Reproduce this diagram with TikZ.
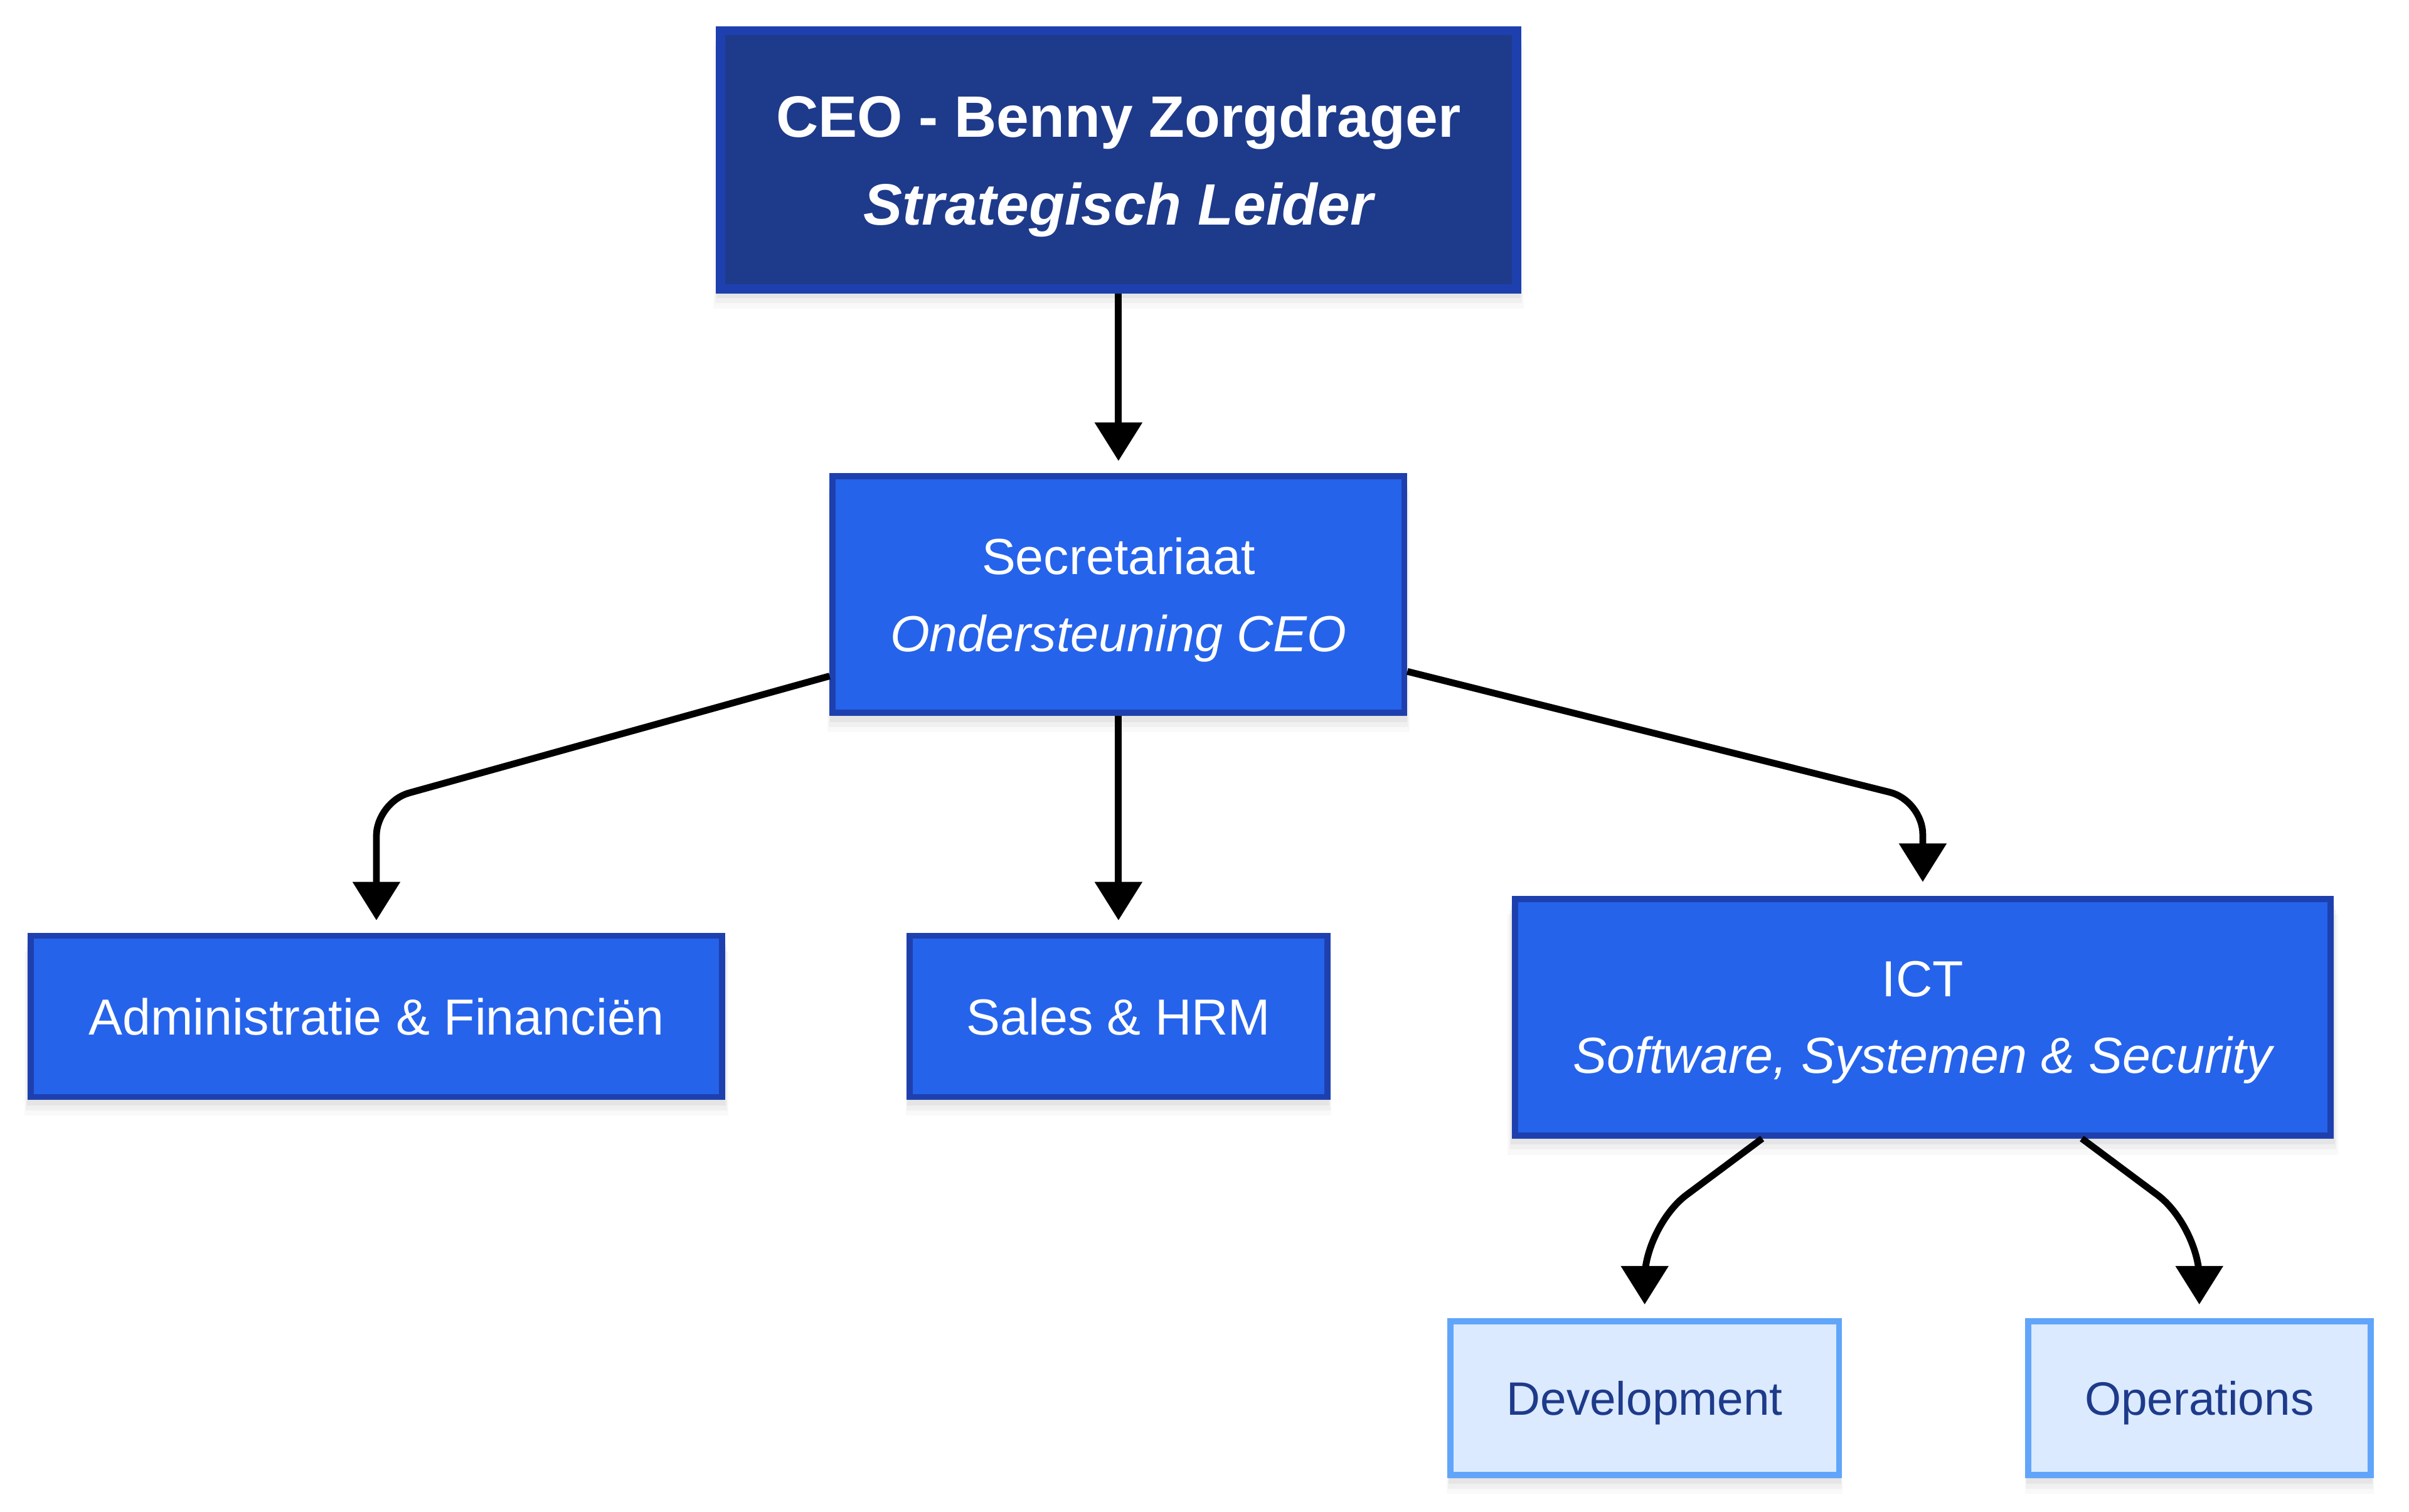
\documentclass[tikz,border=0pt]{standalone}
\usepackage{fontspec}
\setmainfont{Liberation Sans}
\usetikzlibrary{arrows.meta,shadows,calc}
\definecolor{navy}{HTML}{1E3A8A}
\definecolor{bord}{HTML}{1E40AF}
\definecolor{midblue}{HTML}{2563EB}
\definecolor{pale}{HTML}{DBEAFE}
\definecolor{paleb}{HTML}{60A5FA}
\begin{document}
\begin{tikzpicture}[x=1pt,y=-1pt,
  shad/.style={
    general shadow={fill=black, opacity=0.045, shadow xshift=0pt, shadow yshift=-2pt, shadow scale=1.006},
    general shadow={fill=black, opacity=0.045, shadow xshift=0pt, shadow yshift=-5pt, shadow scale=1.01},
    general shadow={fill=black, opacity=0.035, shadow xshift=0pt, shadow yshift=-8pt, shadow scale=1.014},
    general shadow={fill=black, opacity=0.025, shadow xshift=0pt, shadow yshift=-11pt, shadow scale=1.018}},
  box/.style={shad, draw=bord, line width=4pt, fill=midblue, text=white, inner sep=0pt,
    text depth=0pt, align=center, font=\fontsize{33}{50}\selectfont},
  ceobox/.style={shad, draw=bord, line width=6pt, fill=navy, text=white, inner sep=0pt,
    text depth=0pt, align=center, font=\fontsize{38}{57}\selectfont\bfseries},
  subbox/.style={shad, draw=paleb, line width=4pt, fill=pale, text=navy, inner sep=0pt,
    text depth=0pt, align=center, font=\fontsize{30.5}{45}\selectfont},
  conn/.style={draw=black, line width=4.4pt, -{Triangle[width=30pt,length=25pt]}}
]
\fill[white] (0,0) rectangle (1568,984);
\useasboundingbox (0,0) rectangle (1568,984);

\node[ceobox, minimum width=518pt, minimum height=168pt] (ceo) at (728,104)
  {CEO - Benny Zorgdrager\\\itshape Strategisch Leider};
\node[box, minimum width=372pt, minimum height=154pt] (sec) at (728,387)
  {Secretariaat\\\itshape Ondersteuning CEO};
\node[box, minimum width=450pt, minimum height=105pt] (adm) at (245,661.5)
  {Administratie \& Financiën};
\node[box, minimum width=272pt, minimum height=105pt] (sales) at (728,661.5)
  {Sales \& HRM};
\node[box, minimum width=531pt, minimum height=154pt] (ict) at (1251.5,662)
  {ICT\\\itshape Software, Systemen \& Security};
\node[subbox, minimum width=253pt, minimum height=100pt] (dev) at (1070.5,910)
  {Development};
\node[subbox, minimum width=223pt, minimum height=100pt] (ops) at (1431.5,910)
  {Operations};

\draw[conn] (ceo.south) -- ([yshift=8pt]sec.north);
\draw[conn] (sec.south) -- ([yshift=8pt]sales.north);
\draw[conn, rounded corners=22pt] ([yshift=-53pt]sec.west) -- ([yshift=85pt]adm.north) -- ([yshift=8pt]adm.north);
\draw[conn, rounded corners=22pt] ([yshift=-50pt]sec.east) -- ([yshift=62pt]ict.north) -- ([yshift=9pt]ict.north);
\draw[conn, rounded corners=34pt] ([xshift=-104.5pt]ict.south) -- ([yshift=60pt]dev.north) -- ([yshift=9pt]dev.north);
\draw[conn, rounded corners=34pt] ([xshift=103.5pt]ict.south) -- ([yshift=60pt]ops.north) -- ([yshift=9pt]ops.north);
\end{tikzpicture}
\end{document}
